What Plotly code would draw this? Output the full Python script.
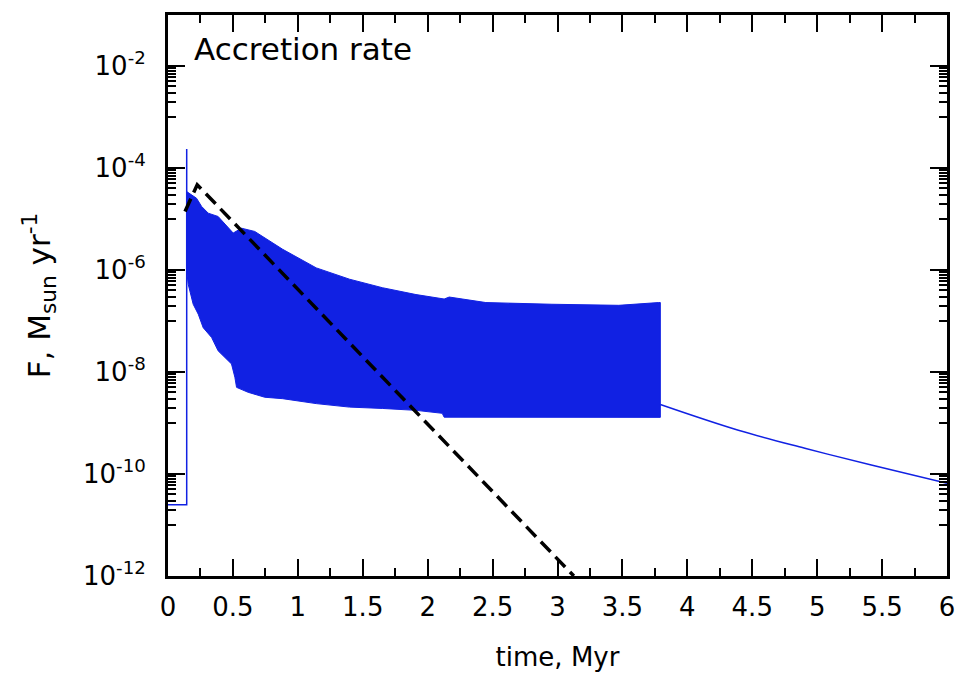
import plotly.graph_objects as go

# ---- data ----
spike_t = [0.0, 0.144, 0.144]
spike_F = [2.5e-11, 2.5e-11, 2.35e-4]

band_t_upper = [0.144, 0.182, 0.220, 0.259, 0.310, 0.386, 0.463, 0.502, 0.566, 0.668,
                0.883, 1.142, 1.398, 1.651, 1.910, 2.127, 2.166, 2.448, 2.957, 3.472,
                3.779, 3.792]
band_F_upper = [3.45e-5, 3.0e-5, 2.55e-5, 1.76e-5, 1.30e-5, 1.12e-5, 6.6e-6, 5.3e-6, 6.6e-6, 5.7e-6,
                2.55e-6, 1.10e-6, 6.6e-7, 4.5e-7, 3.3e-7, 2.7e-7, 2.95e-7, 2.3e-7, 2.13e-7, 2.03e-7,
                2.3e-7, 2.3e-7]

band_t_lower = [0.144, 0.156, 0.194, 0.233, 0.271, 0.336, 0.386, 0.489, 0.515, 0.528,
                0.617, 0.745, 0.883, 1.142, 1.398, 1.651, 1.910, 2.112, 2.127, 3.792]
band_F_lower = [9.5e-7, 5.2e-7, 2.13e-7, 1.36e-7, 7.4e-8, 4.75e-8, 2.6e-8, 1.44e-8, 7.9e-9, 5.0e-9,
                4.0e-9, 3.2e-9, 3.0e-9, 2.4e-9, 2.05e-9, 1.93e-9, 1.77e-9, 1.55e-9, 1.3e-9, 1.29e-9]

tail_t = [3.792, 4.393, 4.905, 5.417, 6.0]
tail_F = [2.3e-9, 7.2e-10, 3.2e-10, 1.5e-10, 6.6e-11]

model_t = [0.131, 0.225, 3.126]
model_F = [1.4e-5, 4.7e-5, 1e-12]

y_major_exp = [-2, -4, -6, -8, -10, -12]
y_tick_text = ["10<sup>%d</sup>" % e for e in y_major_exp]
x_tick_vals = [0, 0.5, 1, 1.5, 2, 2.5, 3, 3.5, 4, 4.5, 5, 5.5, 6]
x_tick_text = ["0", "0.5", "1", "1.5", "2", "2.5", "3", "3.5", "4", "4.5", "5", "5.5", "6"]

BLUE = "#1121E3"
FONT = "DejaVu Sans, Arial, sans-serif"

y_major_vals = [10.0 ** e for e in y_major_exp]
y_minor_vals = [k * 10.0 ** (e - 1) for e in y_major_exp[:-1] for k in range(1, 10)]

fig = go.Figure()

# oscillating band (envelope polygon)
poly_t = band_t_upper + band_t_lower[::-1]
poly_F = band_F_upper + band_F_lower[::-1]
fig.add_trace(go.Scatter(x=poly_t, y=poly_F, mode="lines", fill="toself",
                         fillcolor=BLUE, line=dict(color=BLUE, width=1),
                         hoverinfo="skip", showlegend=False))
fig.add_trace(go.Scatter(x=spike_t, y=spike_F, mode="lines",
                         line=dict(color=BLUE, width=1.5), showlegend=False))
fig.add_trace(go.Scatter(x=tail_t, y=tail_F, mode="lines",
                         line=dict(color=BLUE, width=1.5, shape="spline"), showlegend=False))
fig.add_trace(go.Scatter(x=model_t, y=model_F, mode="lines",
                         line=dict(color="black", width=3.5, dash="14px,7px"), showlegend=False))

fig.add_annotation(text="Accretion rate", xref="paper", yref="paper", x=0.031, y=0.94,
                   xanchor="left", yanchor="middle", showarrow=False,
                   font=dict(family=FONT, size=31, color="black"))

fig.update_layout(
    width=967, height=679,
    margin=dict(l=168, r=18, t=12, b=103),
    paper_bgcolor="white", plot_bgcolor="white",
    font=dict(family=FONT, color="black"),
    xaxis=dict(range=[0, 6], tickvals=x_tick_vals, ticktext=x_tick_text,
               ticks="inside", ticklen=17, tickwidth=2, tickcolor="black",
               showline=True, linewidth=3, linecolor="black", mirror="ticks",
               showgrid=False, zeroline=False, tickfont=dict(size=26),
               ticklabelstandoff=6,
               minor=dict(dtick=0.25, ticks="inside", ticklen=8, tickwidth=2,
                          tickcolor="black", showgrid=False),
               title=dict(text="time, Myr", font=dict(size=26), standoff=27)),
    yaxis=dict(type="log", range=[-12, -1], tickvals=y_major_vals, ticktext=y_tick_text,
               ticks="inside", ticklen=17, tickwidth=2, tickcolor="black",
               showline=True, linewidth=3, linecolor="black", mirror="ticks",
               showgrid=False, zeroline=False, tickfont=dict(size=26),
               ticklabelstandoff=14,
               minor=dict(tickvals=y_minor_vals, ticks="inside", ticklen=8, tickwidth=2,
                          tickcolor="black", showgrid=False),
               title=dict(text="F, M<sub>sun</sub> yr<sup>-1</sup>", font=dict(size=31), standoff=24)),
)

fig.write_html("out.html")
